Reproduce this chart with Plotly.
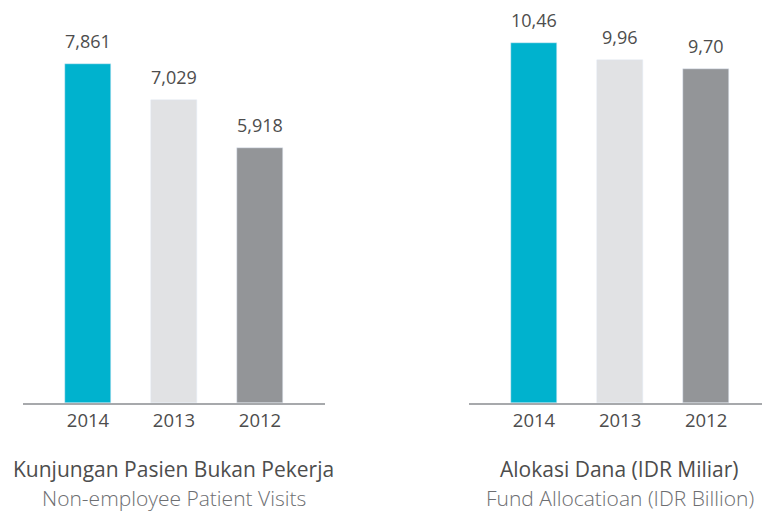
import plotly.graph_objects as go

years = ["2014", "2013", "2012"]
visits = [7861, 7029, 5918]
visit_labels = ["7,861", "7,029", "5,918"]
funds = [10.46, 9.96, 9.70]
fund_labels = ["10,46", "9,96", "9,70"]
bar_colors = ["#00B2CE", "#E1E2E4", "#939598"]

title_left_1 = "Kunjungan Pasien Bukan Pekerja"
title_left_2 = "Non-employee Patient Visits"
title_right_1 = "Alokasi Dana (IDR Miliar)"
title_right_2 = "Fund Allocatioan (IDR Billion)"

W, H = 762, 511
BASE = 403  # pixel y of baseline
FONT = "Open Sans"
TXT = "#4D4D4D"

fig = go.Figure()
fig.add_trace(go.Bar(x=years, y=visits, marker_color=bar_colors, width=0.535,
                     xaxis="x", yaxis="y", showlegend=False, hoverinfo="skip"))
fig.add_trace(go.Bar(x=years, y=funds, marker_color=bar_colors, width=0.535,
                     xaxis="x2", yaxis="y2", showlegend=False, hoverinfo="skip"))

annotations = []
for i, (v, lab) in enumerate(zip(visits, visit_labels)):
    annotations.append(dict(x=i, y=v, xref="x", yref="y", text=lab, showarrow=False,
                            yanchor="bottom", yshift=9,
                            font=dict(family=FONT, size=18, color=TXT)))
for i, (v, lab) in enumerate(zip(funds, fund_labels)):
    annotations.append(dict(x=i, y=v, xref="x2", yref="y2", text=lab, showarrow=False,
                            yanchor="bottom", yshift=9,
                            font=dict(family=FONT, size=18, color=TXT)))

def py(p):
    return (BASE - p) / BASE

for cx, t1, t2 in [(173.5, title_left_1, title_left_2), (619.5, title_right_1, title_right_2)]:
    annotations.append(dict(x=cx / W, y=py(469), xref="paper", yref="paper", text=t1,
                            showarrow=False, xanchor="center", yanchor="middle",
                            font=dict(family=FONT, size=21, color="#4D4D4D")))
    annotations.append(dict(x=cx / W, y=py(498), xref="paper", yref="paper", text=t2,
                            showarrow=False, xanchor="center", yanchor="middle",
                            font=dict(family=FONT, size=21, color="#6D6E71", weight=300)))

axis_common = dict(type="category", showgrid=False, zeroline=False, showline=True,
                   linecolor="#A7A9AC", linewidth=1.5, ticks="",
                   tickfont=dict(family=FONT, size=18.5, color=TXT))

fig.update_layout(
    width=W, height=H,
    margin=dict(l=0, r=0, t=0, b=H - BASE),
    paper_bgcolor="white", plot_bgcolor="white",
    xaxis=dict(domain=[23 / W, 325 / W], range=[-0.756, 2.756], anchor="y", **axis_common),
    xaxis2=dict(domain=[469 / W, 1.0], range=[-0.756, 2.65], anchor="y2", **axis_common),
    yaxis=dict(domain=[0, 1], range=[0, BASE / 0.04312], visible=False, anchor="x"),
    yaxis2=dict(domain=[0, 1], range=[0, BASE / 34.42], visible=False, anchor="x2"),
    annotations=annotations,
    bargap=0,
)
fig.update_traces(cliponaxis=False)

fig.write_html("out.html", config={"displayModeBar": False},
               post_script="document.body.style.margin='0';")
